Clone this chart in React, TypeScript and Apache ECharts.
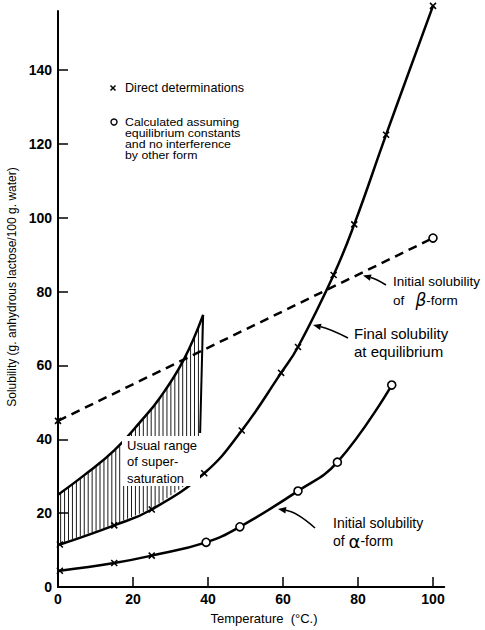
import React, { useEffect, useRef } from "react";
import * as echarts from "echarts";

// ---------- data ----------
const xTicks = [0, 20, 40, 60, 80, 100];
const yTicks = [0, 20, 40, 60, 80, 100, 120, 140];

// Final solubility at equilibrium (direct determinations, crosses)
const finalX = [0.5, 15, 25, 39, 49, 59.5, 64, 73.5, 79, 87.5, 100];
const finalY = [11.5, 16.7, 21, 30.8, 42.4, 58, 65, 84.5, 98.2, 122.5, 157.4];

// Initial solubility of alpha-form
const alphaX = [0.5, 15, 25, 39.5, 48.5, 64, 74.5, 89];
const alphaY = [4.4, 6.5, 8.5, 12.1, 16.3, 26, 33.8, 54.7];
const alphaKind = ["x", "x", "x", "o", "o", "o", "o", "o"];

// Initial solubility of beta-form (dashed)
const betaX = [0, 100];
const betaY = [45, 94.5];
const betaKind = ["x", "o"];

// Upper limit of usual range of supersaturation
const upperX = [0, 7, 15, 22, 27, 33.4, 38.7];
const upperY = [25, 30.3, 37, 44.8, 51, 61.3, 73.7];

// Right boundary of the hatched range
const boundX = [38.7, 37.9];
const boundY = [73.7, 41.7];

// Legend texts
const legendCalc = ["Calculated assuming", "equilibrium constants", "and no interference", "by other form"];

// ---------- styles ----------
const FONT = "'Liberation Sans', Arial, Helvetica, sans-serif";
const CROSS = "path://M0,0L10,10M10,0L0,10";

function interp(xs: number[], ys: number[], x: number): number {
  if (x <= xs[0]) return ys[0];
  for (let i = 1; i < xs.length; i++) {
    if (x <= xs[i]) {
      const t = (x - xs[i - 1]) / (xs[i] - xs[i - 1]);
      return ys[i - 1] + t * (ys[i] - ys[i - 1]);
    }
  }
  return ys[ys.length - 1];
}

function pts(xs: number[], ys: number[], kinds?: string[]) {
  return xs.map((x, i) => {
    const k = kinds ? kinds[i] : "x";
    if (k === "o") {
      return {
        value: [x, ys[i]],
        symbol: "circle",
        symbolSize: 8,
        itemStyle: { color: "#fff", borderColor: "#000", borderWidth: 1.6 },
      };
    }
    return {
      value: [x, ys[i]],
      symbol: CROSS,
      symbolSize: 6,
      itemStyle: { color: "#000", borderColor: "#000", borderWidth: 1.6 },
    };
  });
}

function arrow(sx: number, sy: number, cx: number, cy: number, ex: number, ey: number) {
  const dx = ex - cx;
  const dy = ey - cy;
  const len = Math.sqrt(dx * dx + dy * dy) || 1;
  const ux = dx / len;
  const uy = dy / len;
  const px = -uy;
  const py = ux;
  const L = 8;
  const W = 3.2;
  const bx = ex - ux * L;
  const by = ey - uy * L;
  return [
    {
      type: "bezierCurve",
      z: 100,
      shape: { x1: sx, y1: sy, cpx1: cx, cpy1: cy, x2: bx, y2: by },
      style: { stroke: "#000", lineWidth: 1.6, fill: null },
    },
    {
      type: "polygon",
      z: 100,
      shape: {
        points: [
          [ex, ey],
          [bx + px * W, by + py * W],
          [bx - px * W, by - py * W],
        ],
      },
      style: { fill: "#000" },
    },
  ];
}

function txt(x: number, y: number, text: string, size: number, extra: any = {}, el: any = {}) {
  return {
    type: "text",
    z: 100,
    x,
    y,
    ...el,
    style: {
      text,
      fill: "#000",
      fontSize: size,
      fontFamily: FONT,
      verticalAlign: "middle",
      align: "left",
      ...extra,
    },
  };
}

export default function App() {
  const ref = useRef<HTMLDivElement>(null);

  useEffect(() => {
    if (!ref.current) return;
    const chart = echarts.init(ref.current, undefined, { renderer: "svg" });

    const axisCommon = {
      type: "value",
      axisLine: { show: true, lineStyle: { color: "#000", width: 2 } },
      splitLine: { show: false },
    };

    const lineCommon = {
      type: "line",
      smooth: 0.45,
      clip: false,
      showSymbol: true,
      z: 3,
    };

    const option: any = {
      animation: false,
      backgroundColor: "#fff",
      grid: { left: 58, right: 40.75, top: 11, bottom: 43 },
      xAxis: {
        ...axisCommon,
        min: 0,
        max: 103,
        interval: 20,
        axisTick: {
          show: true,
          inside: true,
          length: 10,
          customValues: xTicks,
          lineStyle: { color: "#000", width: 1.5 },
        },
        axisLabel: {
          customValues: xTicks,
          color: "#000",
          fontSize: 14,
          fontWeight: "bold",
          fontFamily: FONT,
          margin: 5,
        },
      },
      yAxis: {
        ...axisCommon,
        min: 0,
        max: 156,
        interval: 20,
        axisTick: {
          show: true,
          inside: true,
          length: 10,
          customValues: yTicks,
          lineStyle: { color: "#000", width: 1.5 },
        },
        axisLabel: {
          customValues: yTicks,
          color: "#000",
          fontSize: 14,
          fontWeight: "bold",
          fontFamily: FONT,
          margin: 6,
        },
      },
      series: [
        {
          type: "custom",
          name: "hatch",
          silent: true,
          z: 1,
          clip: false,
          data: [[0, 0]],
          renderItem: (_params: any, api: any) => {
            const children: any[] = [];
            const xEnd = upperX[upperX.length - 1];
            for (let x = 0.7; x < xEnd; x += 1.05) {
              const top = interp(upperX, upperY, x);
              let bottom = interp(finalX, finalY, x);
              if (x > boundX[1]) {
                const t = (boundX[0] - x) / (boundX[0] - boundX[1]);
                bottom = boundY[0] - t * (boundY[0] - boundY[1]);
              }
              if (top <= bottom) continue;
              const p1 = api.coord([x, top]);
              const p2 = api.coord([x, bottom]);
              children.push({
                type: "line",
                shape: { x1: p1[0], y1: p1[1] + 1, x2: p2[0], y2: p2[1] - 1 },
                style: { stroke: "#000", lineWidth: 0.9 },
              });
            }
            return { type: "group", children };
          },
        },
        {
          ...lineCommon,
          name: "Final solubility",
          data: pts(finalX, finalY),
          lineStyle: { color: "#000", width: 2.5 },
        },
        {
          ...lineCommon,
          name: "Initial solubility alpha",
          data: pts(alphaX, alphaY, alphaKind),
          lineStyle: { color: "#000", width: 2.5 },
        },
        {
          ...lineCommon,
          smooth: false,
          name: "Initial solubility beta",
          data: pts(betaX, betaY, betaKind),
          lineStyle: { color: "#000", width: 2.5, type: [9, 6] },
        },
        {
          ...lineCommon,
          name: "Supersaturation upper",
          data: upperX.map((x, i) => [x, upperY[i]]),
          showSymbol: false,
          lineStyle: { color: "#000", width: 2.5 },
        },
        {
          ...lineCommon,
          smooth: false,
          name: "Supersaturation boundary",
          data: boundX.map((x, i) => [x, boundY[i]]),
          showSymbol: false,
          lineStyle: { color: "#000", width: 2 },
        },
      ],
      graphic: [
        // white box behind hatch label
        {
          type: "rect",
          z: 90,
          shape: { x: 122, y: 436, width: 78, height: 50 },
          style: { fill: "#fff" },
        },
        txt(127, 445, "Usual range", 13),
        txt(127, 461.5, "of super-", 13),
        txt(127, 478, "saturation", 13),
        // legend
        {
          type: "line",
          z: 100,
          shape: { x1: 110.5, y1: 85.5, x2: 115.5, y2: 90.5 },
          style: { stroke: "#000", lineWidth: 1.5 },
        },
        {
          type: "line",
          z: 100,
          shape: { x1: 115.5, y1: 85.5, x2: 110.5, y2: 90.5 },
          style: { stroke: "#000", lineWidth: 1.5 },
        },
        txt(125, 88, "Direct determinations", 12, {}, { scaleX: 1.05 }),
        {
          type: "circle",
          z: 100,
          shape: { cx: 114, cy: 122, r: 3 },
          style: { fill: "#fff", stroke: "#000", lineWidth: 1.4 },
        },
        ...legendCalc.map((s, i) => txt(125, 121.7 + i * 11, s, 11, {}, { scaleX: 1.12 })),
        // beta annotation
        txt(393, 281.5, "Initial solubility", 13.5),
        {
          type: "text",
          z: 100,
          x: 393,
          y: 300,
          style: {
            text: "of   {g|β}-form",
            fill: "#000",
            fontSize: 13.5,
            fontFamily: FONT,
            verticalAlign: "middle",
            align: "left",
            rich: {
              g: { fontSize: 17, fontFamily: "'DejaVu Sans', sans-serif", fontStyle: "italic", fill: "#000" },
            },
          },
        },
        ...arrow(386, 285, 376, 279, 363, 275.5),
        // final annotation
        txt(354, 333, "Final solubility", 15),
        txt(354, 351, "at equilibrium", 15),
        ...arrow(348, 338, 330, 329, 313, 325),
        // alpha annotation
        txt(333, 523, "Initial solubility", 14),
        {
          type: "text",
          z: 100,
          x: 333,
          y: 541,
          style: {
            text: "of {g|α}-form",
            fill: "#000",
            fontSize: 14,
            fontFamily: FONT,
            verticalAlign: "middle",
            align: "left",
            rich: {
              g: { fontSize: 18, fontFamily: "'DejaVu Sans', sans-serif", fill: "#000" },
            },
          },
        },
        ...arrow(315, 528, 297, 512, 278, 509),
        // axis titles
        {
          type: "text",
          z: 100,
          x: 12,
          y: 287,
          rotation: Math.PI / 2,
          style: {
            text: "Solubility (g. anhydrous lactose/100 g. water)",
            fill: "#000",
            fontSize: 12,
            fontFamily: FONT,
            align: "center",
            verticalAlign: "middle",
          },
        },
        {
          type: "text",
          z: 100,
          x: 264,
          y: 618,
          style: {
            text: "Temperature  (°C.)",
            fill: "#000",
            fontSize: 13,
            fontFamily: FONT,
            align: "center",
            verticalAlign: "middle",
          },
        },
      ],
    };

    chart.setOption(option);
    return () => chart.dispose();
  }, []);

  return (
    <div
      ref={ref}
      style={{ position: "fixed", left: 0, top: 0, width: 485, height: 630, background: "#fff" }}
    />
  );
}
